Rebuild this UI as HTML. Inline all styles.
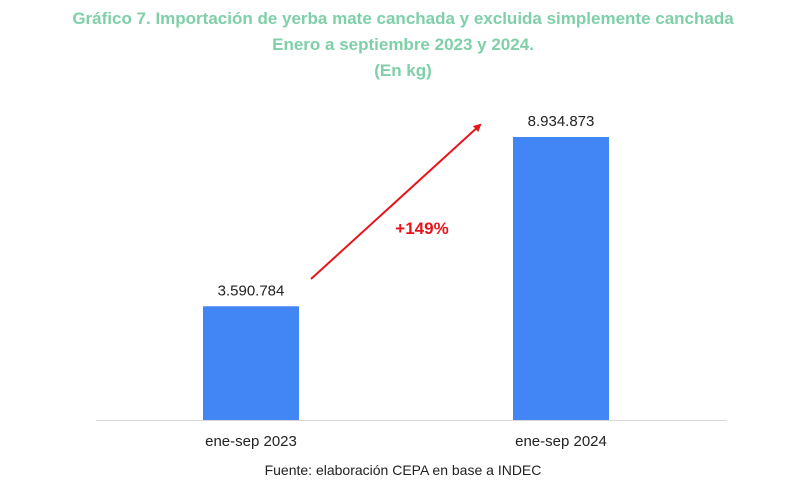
<!DOCTYPE html>
<html><head><meta charset="utf-8"><style>
html,body{margin:0;padding:0;background:#fff;}
svg{display:block;font-family:"Liberation Sans",sans-serif;}
</style></head><body>
<svg id="chart" width="807" height="492" viewBox="0 0 807 492">
<defs><marker id="ah" markerWidth="8" markerHeight="8" refX="6" refY="4" orient="auto" markerUnits="userSpaceOnUse"><path d="M0,0 L8,4 L0,8 Z" fill="#e8141c"/></marker></defs>
<g fill="#7fd0a8" font-weight="bold" font-size="17" text-anchor="middle">
<text x="403" y="24">Gráfico 7. Importación de yerba mate canchada y excluida simplemente canchada</text>
<text x="403" y="50">Enero a septiembre 2023 y 2024.</text>
<text x="403" y="76">(En kg)</text>
</g>
<line x1="96" y1="420.5" x2="727" y2="420.5" stroke="#d8d8d8" stroke-width="1"/>
<g id="bars"></g>
<line x1="311" y1="279" x2="480" y2="125" stroke="#e8141c" stroke-width="2" marker-end="url(#ah)"/>
<text x="422" y="234" fill="#e8141c" font-weight="bold" font-size="17" text-anchor="middle">+149%</text>
<text x="403" y="475" font-size="14" fill="#222" text-anchor="middle">Fuente: elaboración CEPA en base a INDEC</text>
</svg>
<script>
const categories = ["ene-sep 2023", "ene-sep 2024"];
const values = [3590784, 8934873];
const valueLabels = ["3.590.784", "8.934.873"];
const ns = "http://www.w3.org/2000/svg";
const baseY = 420, topY = 137, maxV = 8934873;
function y(v){ return baseY - (v / maxV) * (baseY - topY); }
function xc(i){ return 251 + i * 310; }
const g = document.getElementById("bars");
categories.forEach((c, i) => {
  const r = document.createElementNS(ns, "rect");
  r.setAttribute("x", xc(i) - 48);
  r.setAttribute("y", y(values[i]));
  r.setAttribute("width", 96);
  r.setAttribute("height", baseY - y(values[i]));
  r.setAttribute("fill", "#4285f4");
  
  
  g.appendChild(r);
  const t = document.createElementNS(ns, "text");
  t.setAttribute("x", xc(i));
  t.setAttribute("y", y(values[i]) - 11);
  t.setAttribute("text-anchor", "middle");
  t.setAttribute("font-size", "15");
  t.setAttribute("fill", "#222");
  t.textContent = valueLabels[i];
  
  
  g.appendChild(t);
  const l = document.createElementNS(ns, "text");
  l.setAttribute("x", xc(i));
  l.setAttribute("y", 446);
  l.setAttribute("text-anchor", "middle");
  l.setAttribute("font-size", "15");
  l.setAttribute("fill", "#222");
  l.textContent = c;
  
  
  g.appendChild(l);
});
</script>
</body></html>
